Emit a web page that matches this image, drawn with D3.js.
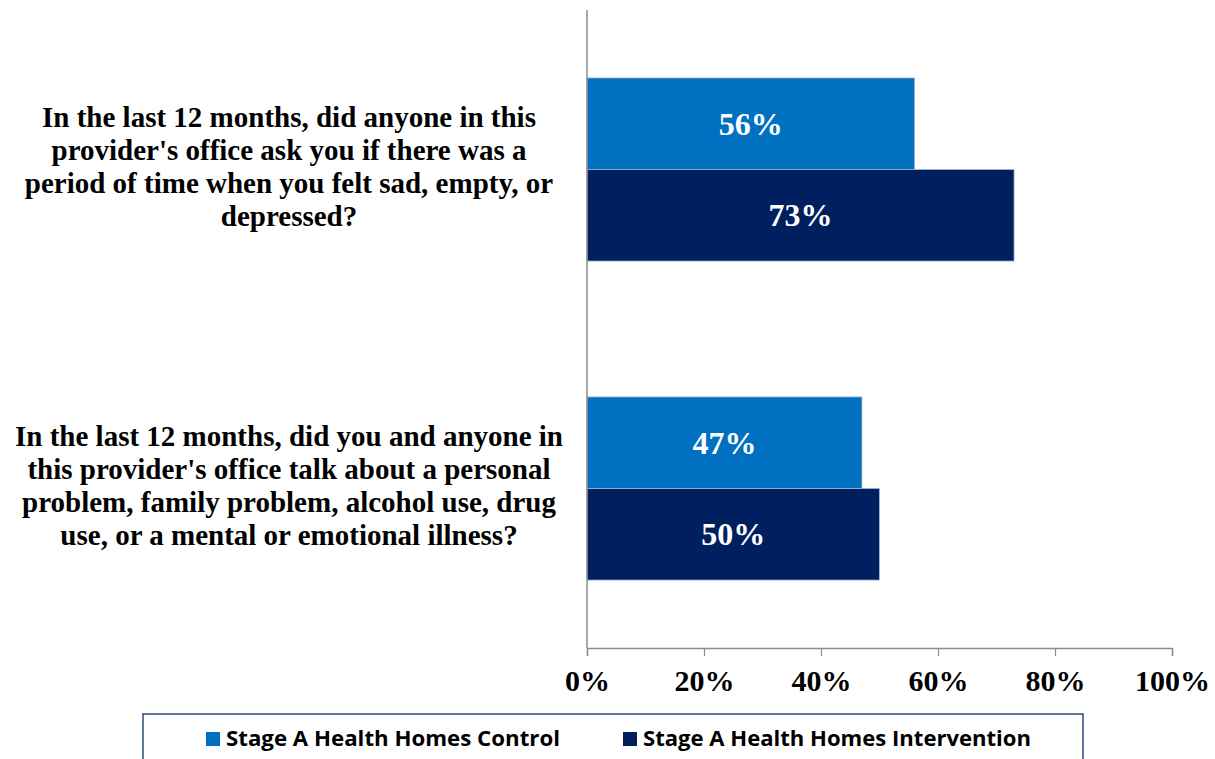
<!DOCTYPE html>
<html>
<head>
<meta charset="utf-8">
<script src="https://cdn.jsdelivr.net/npm/d3@7/dist/d3.min.js"></script>
<style>
  html, body { margin: 0; padding: 0; background: #fff; }
  svg { display: block; }
</style>
</head>
<body>
<svg id="chart" width="1215" height="759"></svg>
<script>
// Survey questions (each entry is the wrapped lines of the label)
const questions = [
  ["In the last 12 months, did anyone in this",
   "provider's office ask you if there was a",
   "period of time when you felt sad, empty, or",
   "depressed?"],
  ["In the last 12 months, did you and anyone in",
   "this provider's office talk about a personal",
   "problem, family problem, alcohol use, drug",
   "use, or a mental or emotional illness?"]
];
const seriesNames = ["Stage A Health Homes Control", "Stage A Health Homes Intervention"];
const controlValues = [0.56, 0.47];
const interventionValues = [0.73, 0.50];
const tickValues = [0, 0.2, 0.4, 0.6, 0.8, 1.0];
const seriesColors = ["#0070C0", "#001F5F"];

const svg = d3.select("#chart");
const serif = "'Liberation Serif', 'Times New Roman', serif";

const plot = { left: 587, right: 1172, top: 10, bottom: 648 };

const x = d3.scaleLinear().domain([0, 1]).range([plot.left, plot.right]);
const y = d3.scaleBand().domain(d3.range(questions.length))
  .range([plot.top, plot.bottom]);
// the pair of bars sits in the middle of each category band
const groupPad = 0.213;
const sub = d3.scaleBand().domain(d3.range(seriesNames.length))
  .range([y.bandwidth() * groupPad, y.bandwidth() * (1 - groupPad)]);

const rows = questions.map((q, i) => ({
  i, lines: q, values: [controlValues[i], interventionValues[i]]
}));

// bars with value labels
const g = svg.append("g");
rows.forEach(r => {
  r.values.forEach((v, s) => {
    g.append("rect")
      .attr("x", x(0))
      .attr("y", y(r.i) + sub(s))
      .attr("width", x(v) - x(0))
      .attr("height", sub.bandwidth())
      .attr("fill", seriesColors[s])
      .attr("stroke", "#A9B8D2")
      .attr("stroke-width", 0.8);
    g.append("text")
      .attr("x", (x(0) + x(v)) / 2)
      .attr("y", y(r.i) + sub(s) + sub.bandwidth() / 2)
      .attr("dy", "0.35em")
      .attr("text-anchor", "middle")
      .attr("font-family", serif)
      .attr("font-weight", "bold")
      .attr("font-size", 32)
      .attr("fill", "#fff")
      .text(Math.round(v * 100) + "%");
  });
});

// vertical category axis line
svg.append("line")
  .attr("x1", x(0)).attr("x2", x(0))
  .attr("y1", plot.top).attr("y2", plot.bottom)
  .attr("stroke", "#8C8C8C").attr("stroke-width", 1.5);

// category labels
rows.forEach(r => {
  const cy = y(r.i) + y.bandwidth() / 2;
  const lh = 33;
  const t = svg.append("text")
    .attr("text-anchor", "middle")
    .attr("font-family", serif)
    .attr("font-weight", "bold")
    .attr("font-size", 29)
    .attr("fill", "#000");
  r.lines.forEach((ln, k) => {
    t.append("tspan")
      .attr("x", 289)
      .attr("y", cy - 2 + (k - (r.lines.length - 1) / 2) * lh)
      .attr("dy", "0.3em")
      .text(ln);
  });
});

// value axis
const xAxis = d3.axisBottom(x).tickValues(tickValues)
  .tickFormat(d3.format(".0%")).tickSize(8).tickPadding(14);
const ax = svg.append("g")
  .attr("transform", `translate(0,${plot.bottom})`)
  .call(xAxis);
ax.select(".domain").attr("stroke", "#8C8C8C").attr("stroke-width", 1.5);
ax.selectAll(".tick line").attr("stroke", "#8C8C8C").attr("stroke-width", 1.2);
ax.selectAll(".tick text")
  .attr("font-family", serif)
  .attr("font-weight", "bold")
  .attr("font-size", 30)
  .attr("fill", "#000");

// legend
const legend = svg.append("g");
legend.append("rect")
  .attr("x", 143).attr("y", 714)
  .attr("width", 940).attr("height", 60)
  .attr("fill", "#fff")
  .attr("stroke", "#2E4A7D").attr("stroke-width", 1.5);
const legendItems = [
  { sx: 206, tx: 226, w: 334 },
  { sx: 623, tx: 643, w: 388 }
];
seriesNames.forEach((name, s) => {
  const it = legendItems[s];
  legend.append("rect")
    .attr("x", it.sx).attr("y", 732)
    .attr("width", 14).attr("height", 14)
    .attr("fill", seriesColors[s]);
  legend.append("text")
    .attr("x", it.tx).attr("y", 739)
    .attr("dy", "0.35em")
    .attr("font-family", "'Open Sans', 'Liberation Sans', sans-serif")
    .attr("font-weight", "bold")
    .attr("font-size", 21)
    .attr("textLength", it.w)
    .attr("lengthAdjust", "spacingAndGlyphs")
    .attr("fill", "#000")
    .text(name);
});
</script>
</body>
</html>
